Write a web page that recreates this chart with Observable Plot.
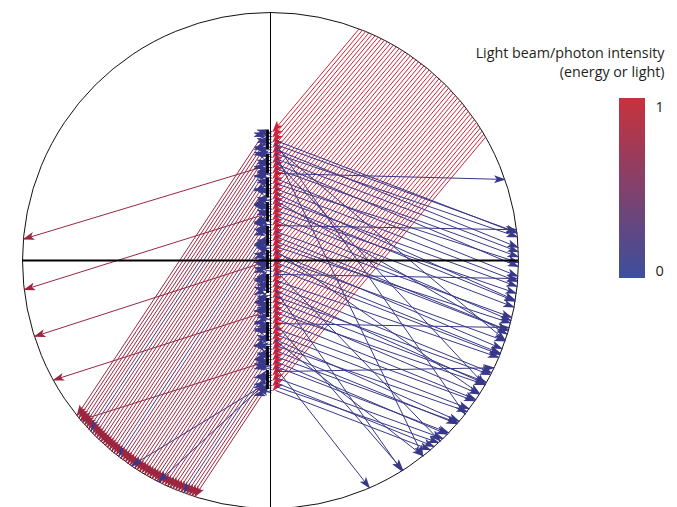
<!DOCTYPE html>
<html>
<head>
<meta charset="utf-8">
<script src="https://cdn.jsdelivr.net/npm/d3@7"></script>
<script src="https://cdn.jsdelivr.net/npm/@observablehq/plot@0.6"></script>
<style>
  html, body { margin: 0; padding: 0; background: #fff; }
</style>
</head>
<body>
<script>
// ---- Data (unit-circle coordinates: circle radius = 1, centre = 0,0) ----
// y positions where the incident photons hit the slab's right face
const incidentHitY = [0.520, 0.499, 0.478, 0.457, 0.436, 0.416, 0.395, 0.374, 0.353, 0.332,
  0.311, 0.290, 0.269, 0.248, 0.227, 0.207, 0.186, 0.165, 0.144, 0.123,
  0.102, 0.081, 0.060, 0.039, 0.018, -0.003, -0.023, -0.044, -0.065, -0.086,
  -0.107, -0.128, -0.149, -0.170, -0.191, -0.212, -0.232, -0.253, -0.274, -0.295,
  -0.316, -0.337, -0.358, -0.379, -0.400, -0.421, -0.441, -0.462, -0.483, -0.504, -0.524];
const incidentAngle = 40;      // degrees from vertical (coming from upper right)
const transmittedAngle = 33.5; // degrees from vertical (leaving to lower left)
const transmittedBlue = [7, 20, 46]; // transmitted rays that lost their energy
// vertical wobble of the short scattered arrows inside the slab (×0.01)
const internalDy = [-2, 1.5, -3, 0, -1, 2, -2.5, 0.5, -1.5, 1, -3, -0.5, 2, -2, 0, 1.5, -3.5,
  -1, 0.5, -2, 2.5, -1.5, 0, -3, 1, -0.5, -2.5, 1.5, -1, 0.5, -3, 2, -2, 0, -1.5, 1, -2.5,
  0.5, -1, 2, -3, -0.5, 1.5, -2, 0, -1.5, 2.5, -1, -3, 0.5, -2];

// red rays scattered to the left
const leftStartY = [0.375, 0.181, -0.012, -0.214, -0.415];
const leftAngle = [16.8, 17.4, 17.9, 17.8, 17.5]; // degrees below horizontal

// weak rays leaving the bottom of the slab to the lower left
const bottomStartY = [-0.504, -0.504];
const bottomAngle = [31.4, 42.6];

// rays reflected to the right (start y on slab, degrees below horizontal)
const reflectedStartY = [
  0.484, 0.468, 0.448, 0.431, 0.411, 0.391, 0.371, 0.331, 0.310, 0.290,
  0.270, 0.250, 0.226, 0.202, 0.181, 0.161, 0.117, 0.097, 0.077, 0.056,
  0.032, 0.012, -0.008, -0.032, -0.081, -0.101, -0.121, -0.145, -0.165, -0.190,
  -0.210, -0.234, -0.274, -0.298, -0.319, -0.343, -0.363, -0.387, -0.407, -0.427,
  -0.472, -0.492, -0.508, -0.524,
  0.351, 0.141, -0.056, -0.254, -0.448,
  0.472, 0.456, 0.431, 0.403, 0.242, 0.040, -0.040, -0.121, -0.254, -0.323, -0.431];
const reflectedAngle = [
  21, 20, 22, 19, 21, 23, 20, 22, 18, 21,
  24, 20, 22, 19, 21, 23, 20, 22, 21, 18,
  23, 20, 22, 21, 19, 22, 24, 20, 21, 23,
  19, 22, 20, 21, 24, 19, 22, 20, 23, 21,
  20, 22, 19, 21,
  1.5, 1, 1, 1, -1,
  55, 40, 64, 47, 30, 35, 46, 55, 49, 38, 52];

// legend
const legendTitle = ["Light beam/photon intensity", "(energy or light)"];
const legendTicks = [1, 0];
const legendColors = ["#3b4f9d", "#c8323c"]; // intensity 0 → 1

// ---- Geometry helpers ----
const rad = d => d * Math.PI / 180;
function hit(x0, y0, dx, dy) {
  const b = x0 * dx + y0 * dy, c = x0 * x0 + y0 * y0 - 1;
  const t = -b + Math.sqrt(b * b - c);
  return [x0 + t * dx, y0 + t * dy];
}
const slabRight = 0.01, slabLeft = -0.03, reflectX = 0.02;

const incident = incidentHitY.map(y => {
  const [x1, y1] = hit(slabRight, y, Math.sin(rad(incidentAngle)), Math.cos(rad(incidentAngle)));
  return {x1, y1, x2: slabRight, y2: y};
});
const transmitted = incidentHitY.map((y, i) => {
  const y0 = y - 0.012;
  const [x2, y2] = hit(slabLeft, y0, -Math.sin(rad(transmittedAngle)), -Math.cos(rad(transmittedAngle)));
  return {x1: slabLeft, y1: y0, x2, y2, blue: transmittedBlue.includes(i)};
});
const internal = incidentHitY.flatMap((y, i) => [
  {x1: 0.006, y1: y, x2: -0.064, y2: y + internalDy[i] * 0.01},
  {x1: 0.004, y1: y - 0.01, x2: -0.052, y2: y - 0.01 - internalDy[i] * 0.008}
]);
const leftRays = leftStartY.map((y, i) => {
  const [x2, y2] = hit(-0.04, y, -Math.cos(rad(leftAngle[i])), -Math.sin(rad(leftAngle[i])));
  return {x1: -0.04, y1: y, x2, y2};
});
const bottomRays = bottomStartY.map((y, i) => {
  const [x2, y2] = hit(slabLeft, y, -Math.cos(rad(bottomAngle[i])), -Math.sin(rad(bottomAngle[i])));
  return {x1: slabLeft, y1: y, x2, y2};
});
const reflected = reflectedStartY.map((y, i) => {
  const a = rad(reflectedAngle[i]);
  const [x2, y2] = hit(reflectX, y, Math.cos(a), -Math.sin(a));
  return {x1: reflectX, y1: y, x2, y2};
});

// legend bar (pixel layout converted to unit-circle coords: px = 270 + 248x, py = 260 - 248y)
const bar = [{x1: (619 - 270) / 248, x2: (645 - 270) / 248, y1: (260 - 278) / 248, y2: (260 - 98) / 248}];

const RED = "#d0223a", DARKRED = "#9c2640", BLUE = "#38388a";

const chart = Plot.plot({
  width: 677,
  height: 507,
  margin: 0,
  x: {domain: [-270 / 248, 407 / 248], axis: null},
  y: {domain: [-247 / 248, 260 / 248], axis: null},
  style: {fontFamily: "'Open Sans', sans-serif", background: "#fff"},
  marks: [
    Plot.dot([0], {x: () => 0, y: () => 0, r: 248, stroke: "#111", strokeWidth: 1, fill: "none"}),
    Plot.link(incident, {x1: "x1", y1: "y1", x2: "x2", y2: "y2", stroke: RED, strokeWidth: 1, markerEnd: "arrow"}),
    Plot.link(transmitted, {x1: "x1", y1: "y1", x2: "x2", y2: "y2", stroke: d => d.blue ? BLUE : DARKRED, strokeWidth: 1, markerEnd: "arrow"}),
    Plot.link(leftRays, {x1: "x1", y1: "y1", x2: "x2", y2: "y2", stroke: DARKRED, strokeWidth: 1, markerEnd: "arrow"}),
    Plot.link(bottomRays, {x1: "x1", y1: "y1", x2: "x2", y2: "y2", stroke: BLUE, strokeWidth: 1, markerEnd: "arrow"}),
    Plot.link(reflected, {x1: "x1", y1: "y1", x2: "x2", y2: "y2", stroke: BLUE, strokeWidth: 1, markerEnd: "arrow"}),
    Plot.link(internal, {x1: "x1", y1: "y1", x2: "x2", y2: "y2", stroke: BLUE, strokeWidth: 1, markerEnd: "arrow"}),
    Plot.ruleX([-0.012], {y1: (260 - 130) / 248, y2: (260 - 392) / 248, stroke: "#000", strokeWidth: 2.8, strokeDasharray: "19,5"}),
    Plot.ruleY([0], {x1: -1, x2: 1, stroke: "#000", strokeWidth: 2.2}),
    Plot.ruleX([0], {y1: -1, y2: 1, stroke: "#000", strokeWidth: 1}),
    // legend
    Plot.rect(bar, {x1: "x1", x2: "x2", y1: "y1", y2: "y2", fill: "#888888"}),
    Plot.text(legendTitle, {x: (664 - 270) / 248, y: (d, i) => (260 - (53 + 19 * i)) / 248, text: d => d, textAnchor: "end", fontSize: 14.3, fill: "#231f20"}),
    Plot.text(legendTicks, {x: (655 - 270) / 248, y: d => (260 - (d === 1 ? 107 : 271)) / 248, text: d => String(d), textAnchor: "start", fontSize: 14.5, fill: "#231f20"})
  ]
});

// filled arrowheads
chart.querySelectorAll("marker").forEach(m => {
  const c = m.getAttribute("stroke");
  m.setAttribute("viewBox", "-11 -4 12 8");
  m.setAttribute("markerWidth", 12);
  m.setAttribute("markerHeight", 8);
  m.setAttribute("markerUnits", "userSpaceOnUse");
  m.setAttribute("fill", c);
  m.setAttribute("stroke", "none");
  const p = m.querySelector("path");
  if (p) p.setAttribute("d", "M-11,-4L1,0L-11,4L-8,0Z");
});

// vertical colour ramp for the legend bar
const ns = "http://www.w3.org/2000/svg";
const defs = document.createElementNS(ns, "defs");
const grad = document.createElementNS(ns, "linearGradient");
grad.setAttribute("id", "intensity-ramp");
grad.setAttribute("x1", "0"); grad.setAttribute("y1", "1");
grad.setAttribute("x2", "0"); grad.setAttribute("y2", "0");
const interp = d3.interpolateRgb(legendColors[0], legendColors[1]);
[0, 0.25, 0.5, 0.75, 1].forEach(t => {
  const s = document.createElementNS(ns, "stop");
  s.setAttribute("offset", t);
  s.setAttribute("stop-color", interp(t));
  grad.appendChild(s);
});
defs.appendChild(grad);
chart.insertBefore(defs, chart.firstChild);
chart.querySelectorAll("rect").forEach(r => {
  const own = (r.getAttribute("fill") || "").toLowerCase();
  const parent = r.parentNode && r.parentNode.getAttribute ? (r.parentNode.getAttribute("fill") || "").toLowerCase() : "";
  if (own === "#888888" || parent === "#888888") r.setAttribute("fill", "url(#intensity-ramp)");
});

document.body.appendChild(chart);
</script>
</body>
</html>
